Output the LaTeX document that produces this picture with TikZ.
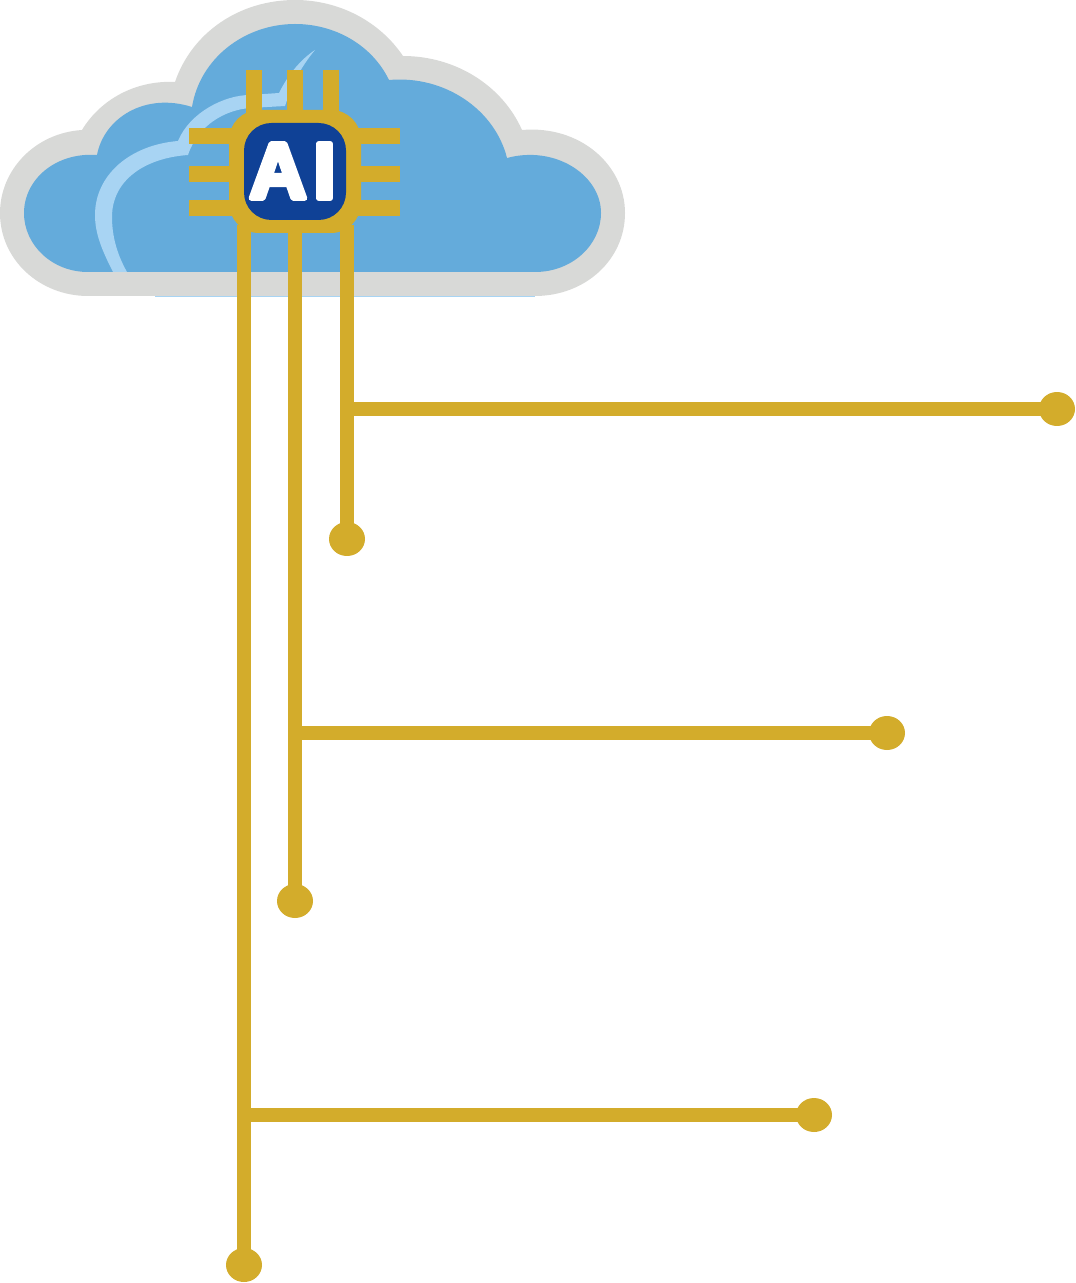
\documentclass[tikz,border=0pt]{standalone}
\usepackage{fontspec}
\newfontfamily\aifont[FakeBold=7]{Liberation Sans Bold}
\usetikzlibrary{shapes.geometric}
\definecolor{cloudgrey}{RGB}{216,217,215}
\definecolor{cloudblue}{RGB}{100,171,219}
\definecolor{cloudlight}{RGB}{168,212,243}
\definecolor{gold}{RGB}{211,172,43}
\definecolor{chipblue}{RGB}{15,65,150}
\tikzset{
  wire/.style={draw=gold,line width=7.9pt},
  pin/.style={draw=gold,line width=9pt},
  dotend/.style={ellipse,fill=gold,minimum width=0.72cm,minimum height=0.68cm,inner sep=0pt}
}
\begin{document}
\begin{tikzpicture}[x=0.02cm,y=-0.02cm]
\useasboundingbox (0,0) rectangle (1075,1283);
% faint edge under the cloud
\draw[cloudlight,line width=0.7pt] (155,296.5) -- (535,296.5);
% cloud outer
\fill[cloudgrey] (88,296) .. controls (40,296) and (0,260) .. (0,213)
  .. controls (0,170) and (35,133) .. (82,130)
  .. controls (100,100) and (135,80) .. (175,82)
  .. controls (192,32) and (240,0) .. (295,0)
  .. controls (340,0) and (380,22) .. (403,56)
  .. controls (455,56) and (502,85) .. (522,130)
  .. controls (580,125) and (625,165) .. (625,213)
  .. controls (625,260) and (585,296) .. (535,296) -- cycle;
% cloud inner
\fill[cloudblue] (88,272) .. controls (52,272) and (24,245) .. (24,213)
  .. controls (24,180) and (55,152) .. (97,155)
  .. controls (104,118) and (145,92) .. (192,107)
  .. controls (200,58) and (245,24) .. (295,24)
  .. controls (335,24) and (372,45) .. (389,80)
  .. controls (445,75) and (495,110) .. (507,158)
  .. controls (555,145) and (601,175) .. (601,213)
  .. controls (601,245) and (572,272) .. (535,272) -- cycle;
% highlight
\fill[cloudlight] (113,272) .. controls (103,252) and (95,235) .. (95,215)
  .. controls (95,175) and (130,145) .. (178,141)
  .. controls (190,112) and (225,95) .. (250,95)
  -- (279,93) .. controls (288,75) and (300,60) .. (315,50)
  .. controls (300,68) and (292,85) .. (285,106)
  -- (250,108) .. controls (225,110) and (198,125) .. (188,155)
  .. controls (145,158) and (112,180) .. (112,217)
  .. controls (112,238) and (118,256) .. (127,272) -- cycle;
% chip pins
\coordinate (t1) at (254,70); \coordinate (t2) at (295,70); \coordinate (t3) at (331,70);
\coordinate (b1) at (254,125); \coordinate (b2) at (295,125); \coordinate (b3) at (331,125);
\draw[pin] (t1) -- (b1); \draw[pin] (t2) -- (b2); \draw[pin] (t3) -- (b3);
\coordinate (l1) at (189,136); \coordinate (l2) at (189,174); \coordinate (l3) at (189,208);
\coordinate (r1) at (400,136); \coordinate (r2) at (400,174); \coordinate (r3) at (400,208);
\coordinate (cl1) at (245,136); \coordinate (cl2) at (245,174); \coordinate (cl3) at (245,208);
\coordinate (cr1) at (345,136); \coordinate (cr2) at (345,174); \coordinate (cr3) at (345,208);
\draw[pin] (l1) -- (cl1); \draw[pin] (l2) -- (cl2); \draw[pin] (l3) -- (cl3);
\draw[pin] (r1) -- (cr1); \draw[pin] (r2) -- (cr2); \draw[pin] (r3) -- (cr3);
% dots
\node[dotend] (d1) at (1057,409) {};
\node[dotend] (d2) at (347,539) {};
\node[dotend] (d3) at (887,733) {};
\node[dotend] (d4) at (295,901) {};
\node[dotend] (d5) at (814,1115) {};
\node[dotend] (d6) at (244,1265) {};
% wires
\coordinate (s1) at (244,225); \coordinate (s2) at (295,225); \coordinate (s3) at (347,225);
\coordinate (j1) at (347,409); \coordinate (j2) at (295,733); \coordinate (j3) at (244,1115);
\draw[wire] (s1) -- (d6.center);
\draw[wire] (s2) -- (d4.center);
\draw[wire] (s3) -- (d2.center);
\draw[wire] (j1) -- (d1.center);
\draw[wire] (j2) -- (d3.center);
\draw[wire] (j3) -- (d5.center);
% chip body
\fill[gold,rounded corners=0.6cm] (229,110) rectangle (361,233);
\fill[chipblue,rounded corners=0.55cm] (244,123) rectangle (346,220);
\node[text=white,inner sep=0pt,font=\aifont\fontsize{45pt}{45pt}\selectfont] (ai) at (292.5,171) {\special{pdf:code 1 j 1 J}A\kern 4pt I};
\end{tikzpicture}
\end{document}
